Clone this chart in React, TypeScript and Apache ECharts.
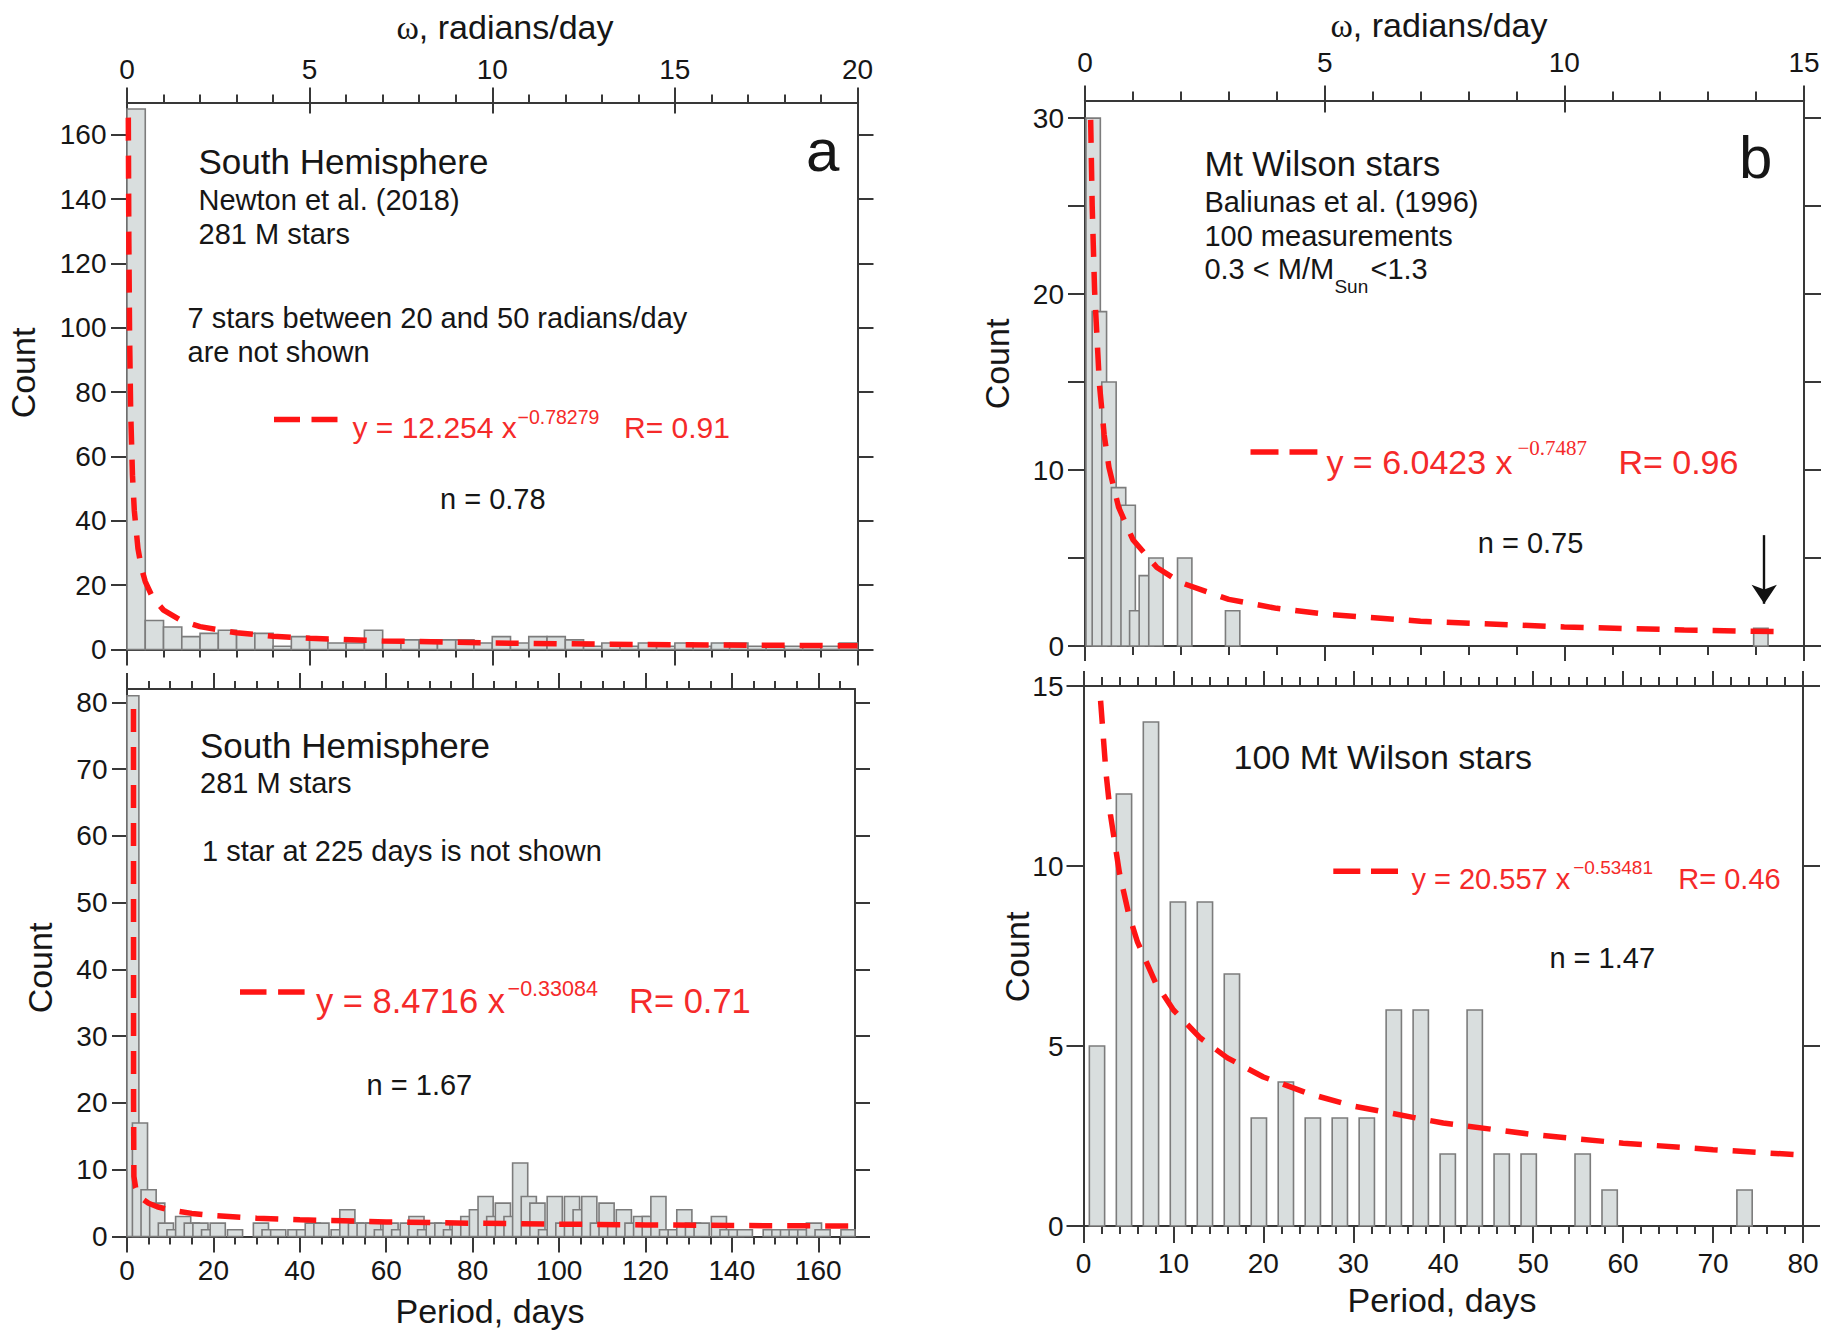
import React, { useEffect, useRef } from "react";
import * as echarts from "echarts";

// ---------- Panel a, top: South Hemisphere, histogram in ω (radians/day)
const southOmegaBinWidth = 0.5;
const southOmegaCounts = [
  168, 9, 7, 4, 5, 6, 5, 5, 1, 4, 3, 2, 2, 6, 3, 3, 3, 3, 3, 2,
  4, 2, 4, 4, 3, 1, 2, 1, 2, 1, 2, 1, 2, 2, 1, 1, 1, 1, 1, 2,
];
const southOmegaFitX = [0.036, 0.05, 0.07, 0.1, 0.15, 0.2, 0.3, 0.4, 0.5, 0.7, 1, 1.5, 2, 3, 4, 5, 7, 10, 13, 16, 20];
const southOmegaFitY = [165.3, 127.8, 98.2, 74.3, 54.1, 43.2, 31.4, 25.1, 21.1, 16.2, 12.25, 8.92, 7.12, 5.19, 4.14, 3.48, 2.67, 2.02, 1.65, 1.4, 1.17];

// ---------- Panel a, bottom: South Hemisphere, histogram in period (days)
const southPeriodFirstCenter = 1;
const southPeriodStep = 2;
const southPeriodBarWidth = 3.5;
const southPeriodCounts = [
  81, 17, 7, 5, 2, 1, 3, 2, 2, 1,
  2, 0, 1, 0, 0, 2, 1, 1, 0, 1,
  1, 2, 2, 0, 1, 4, 2, 2, 2, 1,
  2, 1, 2, 3, 1, 2, 2, 1, 2, 3,
  4, 6, 3, 5, 3, 11, 6, 5, 1, 6,
  2, 6, 4, 6, 2, 5, 2, 4, 2, 3,
  3, 6, 1, 1, 4, 2, 2, 0, 3, 1,
  1, 1, 0, 0, 1, 1, 1, 1, 1, 2,
  1, 0, 0, 1,
];
const southPeriodFitX = [1.5, 1.52, 1.6, 2, 3, 5, 7, 10, 15, 20, 30, 40, 60, 80, 100, 120, 140, 168.5];
const southPeriodFitY = [79, 20, 9, 7.3, 5.9, 4.97, 4.45, 3.96, 3.46, 3.14, 2.75, 2.5, 2.19, 1.99, 1.85, 1.74, 1.65, 1.56];

// ---------- Panel b, top: Mt Wilson stars, histogram in ω
const wilsonOmegaCenters = [0.17, 0.3, 0.5, 0.7, 0.9, 1.08, 1.28, 1.48, 2.08, 3.08, 14.1];
const wilsonOmegaCounts = [30, 19, 15, 9, 8, 2, 4, 5, 5, 2, 1];
const wilsonOmegaBarWidth = 0.3;
const wilsonOmegaFitX = [0.118, 0.15, 0.2, 0.3, 0.4, 0.5, 0.7, 1, 1.5, 2, 3, 4, 5, 7, 10, 12.5, 14.6];
const wilsonOmegaFitY = [29.9, 25.0, 20.2, 14.9, 12.0, 10.15, 7.89, 6.04, 4.46, 3.6, 2.65, 2.14, 1.81, 1.41, 1.08, 0.91, 0.81];
const wilsonArrow = { x: 14.17, yFrom: 6.3, yTo: 2.4 };

// ---------- Panel b, bottom: Mt Wilson stars, histogram in period
const wilsonPeriodFirstCenter = 1.5;
const wilsonPeriodStep = 3;
const wilsonPeriodBarWidth = 1.7;
const wilsonPeriodCounts = [5, 12, 14, 9, 9, 7, 3, 4, 3, 3, 3, 6, 6, 2, 6, 2, 2, 0, 2, 1, 0, 0, 0, 0, 1];
const wilsonPeriodFitX = [1.9, 2.5, 3, 4, 5, 6, 8, 10, 13, 16, 20, 25, 30, 40, 50, 60, 70, 80];
const wilsonPeriodFitY = [14.59, 12.59, 11.42, 9.8, 8.69, 7.89, 6.76, 6.0, 5.22, 4.67, 4.14, 3.68, 3.33, 2.86, 2.54, 2.3, 2.12, 1.97];

// ---------- Tick values
const southOmegaCountTicks = [0, 20, 40, 60, 80, 100, 120, 140, 160];
const southPeriodMajorTicks = [0, 20, 40, 60, 80, 100, 120, 140, 160];
const southPeriodMinorTicks = [5, 10, 15, 25, 30, 35, 45, 50, 55, 65, 70, 75, 85, 90, 95, 105, 110, 115, 125, 130, 135, 145, 150, 155, 165];
const southPeriodCountTicks = [0, 10, 20, 30, 40, 50, 60, 70, 80];
const wilsonOmegaCountTicks = [0, 5, 10, 15, 20, 25, 30];
const wilsonOmegaCountLabels = [0, 10, 20, 30];

const FONT = "'Liberation Sans', Arial, Helvetica, sans-serif";
const SERIF = "'Liberation Serif', 'Times New Roman', serif";
const TXT = "#161616";
const RED_LINE = "#ff1414";
const RED_TXT = "#f52a2a";
const AXC = "#383838";
const BAR_FILL = "#d9dede";
const BAR_STROKE = "#7c7c7c";
const TICK_FS = 28;

function mkAxis(o: any) {
  const hasLabels = !!o.labels || !!o.showLabels;
  const a: any = {
    type: "value",
    gridIndex: o.grid,
    position: o.position,
    min: o.min,
    max: o.max,
    splitLine: { show: false },
    axisLine: { show: o.line !== false, onZero: false, lineStyle: { color: AXC, width: 2 } },
    axisTick: { show: true, inside: !!o.inside, length: o.tickLen, lineStyle: { color: AXC, width: 2 } },
    axisLabel: { show: hasLabels, fontFamily: FONT, fontSize: TICK_FS, color: TXT, margin: o.margin ?? 8 },
    minorTick: {
      show: !!o.minorSplit,
      splitNumber: o.minorSplit || 5,
      length: o.minorLen || 8,
      lineStyle: { color: AXC, width: 2 },
    },
    minorSplitLine: { show: false },
  };
  if (o.interval) a.interval = o.interval;
  if (o.ticks) a.axisTick.customValues = o.ticks;
  if (o.labels) a.axisLabel.customValues = o.labels;
  return a;
}

function barRenderer(width: number) {
  return (params: any, api: any) => {
    const x = api.value(0);
    const v = api.value(1);
    if (!v) return null;
    const a = api.coord([x - width / 2, v]);
    const b = api.coord([x + width / 2, 0]);
    const cs = params.coordSys;
    const shape = echarts.graphic.clipRectByRect(
      { x: a[0], y: a[1], width: b[0] - a[0], height: b[1] - a[1] },
      { x: cs.x, y: cs.y, width: cs.width, height: cs.height }
    );
    if (!shape) return null;
    return { type: "rect", shape, style: { fill: BAR_FILL, stroke: BAR_STROKE, lineWidth: 1.6 } };
  };
}

function barSeries(xi: number, yi: number, data: number[][], width: number) {
  return {
    type: "custom",
    xAxisIndex: xi,
    yAxisIndex: yi,
    renderItem: barRenderer(width),
    data,
    z: 2,
    silent: true,
  };
}

function fitSeries(xi: number, yi: number, xs: number[], ys: number[], extra: any = {}) {
  return {
    type: "line",
    xAxisIndex: xi,
    yAxisIndex: yi,
    data: xs.map((x, i) => [x, ys[i]]),
    showSymbol: false,
    symbol: "none",
    silent: true,
    clip: true,
    z: 5,
    lineStyle: { color: RED_LINE, width: 5.5, type: [23, 15], cap: "butt" },
    ...extra,
  };
}

function txt(x: number, base: number, text: string, fs: number, o: any = {}) {
  return {
    type: "text",
    x,
    y: base - 0.35 * fs,
    silent: true,
    z: 100,
    style: {
      text,
      fontSize: fs,
      fontFamily: o.ff || FONT,
      fill: o.color || TXT,
      align: o.align || "left",
      verticalAlign: "middle",
    },
  };
}

function vtxt(x: number, y: number, text: string, fs: number) {
  return {
    type: "text",
    x,
    y,
    rotation: Math.PI / 2,
    silent: true,
    z: 100,
    style: { text, fontSize: fs, fontFamily: FONT, fill: TXT, align: "center", verticalAlign: "middle" },
  };
}

function omegaTitle(cx: number, base: number) {
  return {
    type: "text",
    x: cx,
    y: base - 0.35 * 34,
    silent: true,
    z: 100,
    style: {
      text: "{w|ω}{r|, radians/day}",
      align: "center",
      verticalAlign: "middle",
      fill: TXT,
      rich: {
        w: { fontFamily: SERIF, fontSize: 34, fill: TXT },
        r: { fontFamily: FONT, fontSize: 34, fill: TXT },
      },
    },
  };
}

function legendDash(x1: number, x2: number, y: number, dash: number[]) {
  return {
    type: "line",
    silent: true,
    z: 100,
    shape: { x1, y1: y, x2, y2: y },
    style: { stroke: RED_LINE, lineWidth: 5.5, lineDash: dash, lineCap: "butt" },
  };
}

function buildOption() {
  const southOmegaBars = southOmegaCounts.map((c, i) => [i * southOmegaBinWidth + southOmegaBinWidth / 2, c]);
  const southPeriodBars = southPeriodCounts.map((c, i) => [southPeriodFirstCenter + i * southPeriodStep, c]);
  const wilsonOmegaBars = wilsonOmegaCounts.map((c, i) => [wilsonOmegaCenters[i], c]);
  const wilsonPeriodBars = wilsonPeriodCounts.map((c, i) => [wilsonPeriodFirstCenter + i * wilsonPeriodStep, c]);

  const grid = [
    { left: 127, top: 102.5, width: 730.5, height: 547 },
    { left: 127, top: 689, width: 728, height: 547.5 },
    { left: 1085, top: 100.5, width: 719, height: 545.5 },
    { left: 1083.5, top: 686, width: 719.5, height: 540 },
  ];

  const xAxis = [
    // 0 TL top (ω)
    mkAxis({ grid: 0, position: "top", min: 0, max: 20, interval: 5, showLabels: true, tickLen: 15, minorSplit: 5, minorLen: 8, margin: 19 }),
    // 1 TL top inner ticks
    mkAxis({ grid: 0, position: "top", min: 0, max: 20, interval: 5, tickLen: 11, inside: true, line: false }),
    // 2 TL bottom
    mkAxis({ grid: 0, position: "bottom", min: 0, max: 20, interval: 5, tickLen: 16, minorSplit: 5, minorLen: 8 }),
    // 3 BL bottom major
    mkAxis({ grid: 1, position: "bottom", min: 0, max: 168.5, ticks: southPeriodMajorTicks, labels: southPeriodMajorTicks, tickLen: 16, margin: 20 }),
    // 4 BL bottom minor
    mkAxis({ grid: 1, position: "bottom", min: 0, max: 168.5, ticks: southPeriodMinorTicks, tickLen: 8, line: false }),
    // 5 BL top major
    mkAxis({ grid: 1, position: "top", min: 0, max: 168.5, ticks: southPeriodMajorTicks, tickLen: 16 }),
    // 6 BL top minor
    mkAxis({ grid: 1, position: "top", min: 0, max: 168.5, ticks: southPeriodMinorTicks, tickLen: 8, line: false }),
    // 7 TR top (ω)
    mkAxis({ grid: 2, position: "top", min: 0, max: 15, interval: 5, showLabels: true, tickLen: 15, minorSplit: 5, minorLen: 9, margin: 24 }),
    // 8 TR top inner ticks
    mkAxis({ grid: 2, position: "top", min: 0, max: 15, interval: 5, tickLen: 12, inside: true, line: false }),
    // 9 TR bottom
    mkAxis({ grid: 2, position: "bottom", min: 0, max: 15, interval: 5, tickLen: 15, minorSplit: 5, minorLen: 9 }),
    // 10 BR bottom
    mkAxis({ grid: 3, position: "bottom", min: 0, max: 80, interval: 10, showLabels: true, tickLen: 17, minorSplit: 5, minorLen: 8, margin: 23.5 }),
    // 11 BR top
    mkAxis({ grid: 3, position: "top", min: 0, max: 80, interval: 10, tickLen: 15, minorSplit: 5, minorLen: 9 }),
  ];

  const yAxis = [
    mkAxis({ grid: 0, position: "left", min: 0, max: 170, ticks: southOmegaCountTicks, labels: southOmegaCountTicks, tickLen: 16, margin: 20.5 }),
    mkAxis({ grid: 0, position: "right", min: 0, max: 170, ticks: southOmegaCountTicks, tickLen: 16 }),
    mkAxis({ grid: 1, position: "left", min: 0, max: 82, ticks: southPeriodCountTicks, labels: southPeriodCountTicks, tickLen: 15, margin: 19.5 }),
    mkAxis({ grid: 1, position: "right", min: 0, max: 82, ticks: southPeriodCountTicks, tickLen: 15 }),
    mkAxis({ grid: 2, position: "left", min: 0, max: 31, ticks: wilsonOmegaCountTicks, labels: wilsonOmegaCountLabels, tickLen: 17, margin: 21 }),
    mkAxis({ grid: 2, position: "right", min: 0, max: 31, ticks: wilsonOmegaCountTicks, tickLen: 17 }),
    mkAxis({ grid: 3, position: "left", min: 0, max: 15, interval: 5, showLabels: true, tickLen: 17, margin: 20 }),
    mkAxis({ grid: 3, position: "right", min: 0, max: 15, interval: 5, tickLen: 17 }),
  ];

  const series: any[] = [
    barSeries(2, 0, southOmegaBars, southOmegaBinWidth),
    fitSeries(2, 0, southOmegaFitX, southOmegaFitY),
    barSeries(3, 2, southPeriodBars, southPeriodBarWidth),
    fitSeries(3, 2, southPeriodFitX, southPeriodFitY),
    barSeries(9, 4, wilsonOmegaBars, wilsonOmegaBarWidth),
    fitSeries(9, 4, wilsonOmegaFitX, wilsonOmegaFitY, {
      markLine: {
        silent: true,
        symbol: ["none", "arrow"],
        symbolSize: 19,
        label: { show: false },
        lineStyle: { color: "#111111", width: 2.4, type: "solid" },
        data: [[{ coord: [wilsonArrow.x, wilsonArrow.yFrom] }, { coord: [wilsonArrow.x, wilsonArrow.yTo] }]],
      },
    }),
    barSeries(10, 6, wilsonPeriodBars, wilsonPeriodBarWidth),
    fitSeries(10, 6, wilsonPeriodFitX, wilsonPeriodFitY),
  ];

  const graphic: any[] = [
    // ---- top-left
    omegaTitle(505, 39),
    txt(198.5, 174, "South Hemisphere", 35),
    txt(198.5, 210, "Newton et al. (2018)", 29),
    txt(198.5, 244, "281 M stars", 29),
    txt(187.5, 328, "7 stars between 20 and 50 radians/day", 29),
    txt(187.5, 362, "are not shown", 29),
    legendDash(274, 337.5, 419.4, [26, 11.5]),
    txt(352.5, 438, "y = 12.254 x", 30, { color: RED_TXT }),
    txt(517.5, 423.7, "−0.78279", 19.5, { color: RED_TXT }),
    txt(624, 438, "R= 0.91", 30, { color: RED_TXT }),
    txt(440, 509, "n = 0.78", 29),
    txt(806, 171, "a", 60),
    vtxt(23, 373, "Count", 34),
    // ---- bottom-left
    txt(200, 758, "South Hemisphere", 35),
    txt(200, 793, "281 M stars", 29),
    txt(202, 861, "1 star at 225 days is not shown", 29),
    legendDash(240, 304.6, 992, [26.5, 11.6]),
    txt(316, 1013, "y = 8.4716 x", 34.5, { color: RED_TXT }),
    txt(507.6, 996.7, "−0.33084", 21.5, { color: RED_TXT }),
    txt(629, 1013, "R= 0.71", 34.5, { color: RED_TXT }),
    txt(366.6, 1095, "n = 1.67", 29),
    vtxt(40, 968, "Count", 34),
    txt(490, 1323, "Period, days", 34, { align: "center" }),
    // ---- top-right
    omegaTitle(1439, 37),
    txt(1204.4, 176.5, "Mt Wilson stars", 34.5),
    txt(1204.4, 212.3, "Baliunas et al. (1996)", 29),
    txt(1204.4, 246.3, "100 measurements", 29),
    txt(1204.4, 279, "0.3 < M/M", 29),
    txt(1334.4, 293, "Sun", 19),
    txt(1370.5, 279, "<1.3", 29),
    txt(1739, 178.7, "b", 60),
    legendDash(1250.5, 1317.4, 452, [28, 11]),
    txt(1326.4, 474.3, "y = 6.0423 x", 34, { color: RED_TXT }),
    txt(1517.5, 455.5, "−0.7487", 21, { color: RED_TXT, ff: SERIF }),
    txt(1618.4, 474.3, "R= 0.96", 34, { color: RED_TXT }),
    txt(1477.7, 553.6, "n = 0.75", 29),
    vtxt(997, 364, "Count", 34),
    // ---- bottom-right
    txt(1233.5, 769.3, "100 Mt Wilson stars", 34),
    legendDash(1333.3, 1398, 871.2, [27, 10.7]),
    txt(1411.4, 889.6, "y = 20.557 x", 29, { color: RED_TXT }),
    txt(1573.2, 874.3, "−0.53481", 19, { color: RED_TXT }),
    txt(1678.3, 889.6, "R= 0.46", 29, { color: RED_TXT }),
    txt(1549.4, 968.3, "n = 1.47", 29),
    vtxt(1017, 957, "Count", 34),
    txt(1442, 1311.5, "Period, days", 34, { align: "center" }),
  ];

  return {
    animation: false,
    backgroundColor: "#ffffff",
    grid,
    xAxis,
    yAxis,
    series,
    graphic,
  };
}

export default function App() {
  const ref = useRef<HTMLDivElement>(null);
  useEffect(() => {
    if (!ref.current) return;
    const chart = echarts.init(ref.current, null, { renderer: "svg" });
    chart.setOption(buildOption() as any);
    return () => {
      chart.dispose();
    };
  }, []);
  return (
    <div
      ref={ref}
      style={{ position: "absolute", left: 0, top: 0, width: 1828, height: 1342, background: "#ffffff" }}
    />
  );
}
